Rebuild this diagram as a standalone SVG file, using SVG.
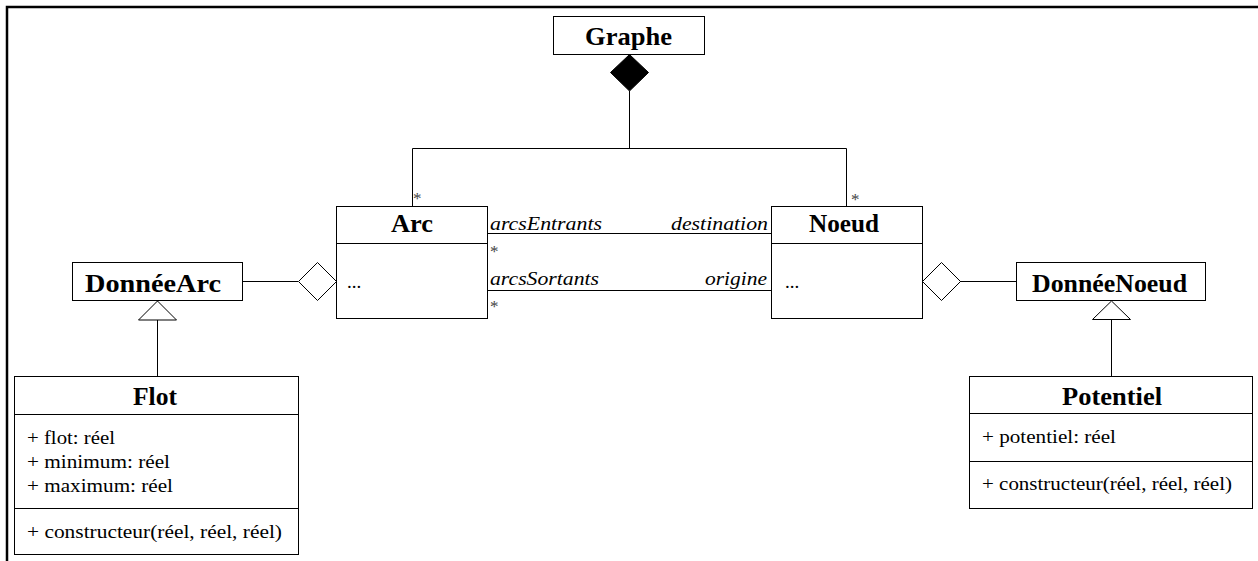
<svg xmlns="http://www.w3.org/2000/svg" width="1258" height="561" viewBox="0 0 1258 561">
<style>
.box{fill:#fff;stroke:#000;stroke-width:1}
.ln{fill:none;stroke:#000;stroke-width:1}
.hollow{fill:#fff;stroke:#000;stroke-width:1}
.solid{fill:#000;stroke:#000;stroke-width:1}
text{font-family:"Liberation Serif","Times New Roman","DejaVu Serif",serif;fill:#000}
.title{font-weight:bold;font-size:25px}
.attr{font-size:19px}
.role{font-style:italic;font-size:19px}
.star{font-size:17px;fill:#444}
</style>
<rect x="0" y="0" width="1258" height="561" fill="#fff"/>
<path d="M7 561 V7 H1258" fill="none" stroke="#000" stroke-width="2.5"/>
<g id="connectors">
<polygon class="solid" points="629.5,54.5 648.5,72.5 629.5,91 610.5,72.5"/>
<polyline class="ln" points="629.5,91 629.5,148.5"/>
<polyline class="ln" points="412.5,206 412.5,148.5 846.5,148.5 846.5,206"/>
<line class="ln" x1="487" y1="233.5" x2="771" y2="233.5"/>
<line class="ln" x1="487" y1="290.5" x2="771" y2="290.5"/>
<line class="ln" x1="242" y1="281.5" x2="298" y2="281.5"/>
<polygon class="hollow" points="298.5,281.5 317.5,262.5 336.5,281.5 317.5,300.5"/>
<polygon class="hollow" points="922.5,281.5 941.5,262.5 960.5,281.5 941.5,300.5"/>
<line class="ln" x1="960" y1="281.5" x2="1016" y2="281.5"/>
<polygon class="hollow" points="157.5,301 176.5,320 138.5,320"/>
<line class="ln" x1="157.5" y1="320" x2="157.5" y2="376"/>
<polygon class="hollow" points="1111.5,301 1130.5,319.5 1092.5,319.5"/>
<line class="ln" x1="1111.5" y1="319.5" x2="1111.5" y2="376"/>
<text class="role" x="490" y="230" textLength="112" lengthAdjust="spacingAndGlyphs">arcsEntrants</text>
<text class="role" x="671" y="230" textLength="97" lengthAdjust="spacingAndGlyphs">destination</text>
<text class="role" x="490" y="285" textLength="109" lengthAdjust="spacingAndGlyphs">arcsSortants</text>
<text class="role" x="705" y="285" textLength="62" lengthAdjust="spacingAndGlyphs">origine</text>
<text class="star" x="490" y="257">*</text>
<text class="star" x="490" y="312">*</text>
<text class="star" x="413" y="204">*</text>
<text class="star" x="851" y="205">*</text>
</g>
<g id="Graphe">
<rect class="box" x="553.5" y="16.5" width="151" height="38"/>
<text class="title" x="585" y="45" textLength="87" lengthAdjust="spacingAndGlyphs">Graphe</text>
</g>
<g id="Arc">
<rect class="box" x="336.5" y="206.5" width="151" height="112"/>
<line class="ln" x1="336.5" y1="243.5" x2="487.5" y2="243.5"/>
<text class="title" x="391" y="232" textLength="42" lengthAdjust="spacingAndGlyphs">Arc</text>
<text class="attr" x="347" y="288">...</text>
</g>
<g id="Noeud">
<rect class="box" x="771.5" y="206.5" width="151" height="112"/>
<line class="ln" x1="771.5" y1="243.5" x2="922.5" y2="243.5"/>
<text class="title" x="809" y="232" textLength="70" lengthAdjust="spacingAndGlyphs">Noeud</text>
<text class="attr" x="785" y="288">...</text>
</g>
<g id="DonneeArc">
<rect class="box" x="72.5" y="262.5" width="170" height="38"/>
<text class="title" x="85" y="292" textLength="136" lengthAdjust="spacingAndGlyphs">DonnéeArc</text>
</g>
<g id="DonneeNoeud">
<rect class="box" x="1016.5" y="262.5" width="189" height="38"/>
<text class="title" x="1032" y="292" textLength="155" lengthAdjust="spacingAndGlyphs">DonnéeNoeud</text>
</g>
<g id="Flot">
<rect class="box" x="14.5" y="376.5" width="284" height="178"/>
<line class="ln" x1="14.5" y1="414.5" x2="298.5" y2="414.5"/>
<line class="ln" x1="14.5" y1="508.5" x2="298.5" y2="508.5"/>
<text class="title" x="133" y="405" textLength="44" lengthAdjust="spacingAndGlyphs">Flot</text>
<text class="attr" x="27" y="444" textLength="88" lengthAdjust="spacingAndGlyphs">+ flot: réel</text>
<text class="attr" x="27" y="468" textLength="143" lengthAdjust="spacingAndGlyphs">+ minimum: réel</text>
<text class="attr" x="27" y="492" textLength="146" lengthAdjust="spacingAndGlyphs">+ maximum: réel</text>
<text class="attr" x="27" y="538" textLength="255" lengthAdjust="spacingAndGlyphs">+ constructeur(réel, réel, réel)</text>
</g>
<g id="Potentiel">
<rect class="box" x="969.5" y="376.5" width="283" height="132"/>
<line class="ln" x1="969.5" y1="413.5" x2="1252.5" y2="413.5"/>
<line class="ln" x1="969.5" y1="461.5" x2="1252.5" y2="461.5"/>
<text class="title" x="1062" y="405" textLength="100" lengthAdjust="spacingAndGlyphs">Potentiel</text>
<text class="attr" x="982" y="443" textLength="134" lengthAdjust="spacingAndGlyphs">+ potentiel: réel</text>
<text class="attr" x="982" y="490" textLength="250" lengthAdjust="spacingAndGlyphs">+ constructeur(réel, réel, réel)</text>
</g>
</svg>
